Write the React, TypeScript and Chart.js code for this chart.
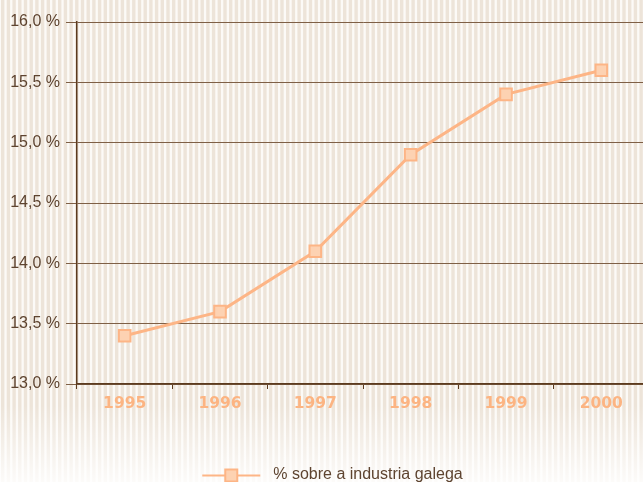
import React, { useEffect, useRef } from "react";
import { Chart, registerables } from "chart.js";

Chart.register(...registerables);

const categories = ["1995", "1996", "1997", "1998", "1999", "2000"];
const values = [13.4, 13.6, 14.1, 14.9, 15.4, 15.6];
const seriesLabel = "% sobre a industria galega";
const yMin = 13;
const yMax = 16;
const yStep = 0.5;

const LINE = "#fdb586";
const POINT_FILL = "#fdd2b2";
const TEXT = "#5e4430";
const AXIS = "#5c3b1f";
const GRID = "#7f6046";
const XLABEL = "#fcb482";

const W = 684;
const H = 482;
const LEGEND_SHIFT = 8;

const background = {
  id: "stripes",
  beforeDraw(chart: any) {
    const ctx = chart.ctx;
    ctx.save();
    ctx.fillStyle = "#fcfaf7";
    ctx.fillRect(0, 0, chart.width, chart.height);
    ctx.fillStyle = "#ede4d9";
    for (let x = 1; x < chart.width; x += 5.7) {
      ctx.fillRect(x, 0, 3.4, chart.height);
    }
    const g = ctx.createLinearGradient(0, 405, 0, chart.height);
    g.addColorStop(0, "rgba(255,255,255,0)");
    g.addColorStop(1, "rgba(255,255,255,0.85)");
    ctx.fillStyle = g;
    ctx.fillRect(0, 405, chart.width, chart.height - 405);
    ctx.restore();
  },
};

const legendMarker = {
  id: "legendMarker",
  afterLayout(chart: any) {
    const lg = chart.legend;
    if (!lg) return;
    lg.left += LEGEND_SHIFT;
    lg.right += LEGEND_SHIFT;
    (lg.legendHitBoxes || []).forEach((hb: any) => {
      hb.left += LEGEND_SHIFT;
    });
  },
  afterDraw(chart: any) {
    const lg = chart.legend;
    if (!lg || !lg.legendHitBoxes || !lg.legendHitBoxes.length) return;
    const hb = lg.legendHitBoxes[0];
    const ctx = chart.ctx;
    const cy = Math.round(hb.top + hb.height / 2) + 0.5;
    ctx.save();
    ctx.strokeStyle = LINE;
    ctx.lineWidth = 2;
    ctx.beginPath();
    ctx.moveTo(hb.left, cy);
    ctx.lineTo(hb.left + 58, cy);
    ctx.stroke();
    ctx.fillStyle = POINT_FILL;
    ctx.fillRect(hb.left + 23, cy - 6, 12, 12);
    ctx.strokeStyle = LINE;
    ctx.lineWidth = 2;
    ctx.strokeRect(hb.left + 23, cy - 6, 12, 12);
    ctx.restore();
  },
};

export default function App() {
  const ref = useRef<HTMLCanvasElement>(null);
  useEffect(() => {
    if (!ref.current) return;
    const chart = new Chart(ref.current, {
      type: "line",
      data: {
        labels: categories,
        datasets: [
          {
            label: seriesLabel,
            data: values,
            borderColor: LINE,
            borderWidth: 3,
            backgroundColor: POINT_FILL,
            pointStyle: "rect",
            pointRadius: 8.2,
            pointBorderWidth: 2,
            pointBorderColor: LINE,
            pointBackgroundColor: POINT_FILL,
            tension: 0,
          },
        ],
      },
      plugins: [background, legendMarker],
      options: {
        animation: false,
        responsive: false,
        layout: { padding: { top: 22, right: 35, bottom: -11, left: 0 } },
        plugins: {
          tooltip: { enabled: false },
          legend: {
            position: "bottom",
            labels: {
              color: TEXT,
              font: { family: "Liberation Sans", size: 16 },
              boxWidth: 63,
              boxHeight: 2,
              padding: 10,
              generateLabels: () => [
                {
                  text: seriesLabel,
                  fillStyle: "rgba(0,0,0,0)",
                  strokeStyle: "rgba(0,0,0,0)",
                  lineWidth: 0,
                  datasetIndex: 0,
                  fontColor: TEXT,
                } as any,
              ],
            },
          },
        },
        scales: {
          x: {
            type: "category",
            offset: true,
            afterFit(scale: any) {
              scale.height = 73;
            },
            grid: {
              offset: true,
              drawOnChartArea: false,
              drawTicks: true,
              tickLength: 5,
              color: AXIS,
              lineWidth: 1,
            },
            border: { color: AXIS, width: 1.5 },
            ticks: {
              color: XLABEL,
              font: { family: "DejaVu Sans", size: 15.5, weight: "bold" },
              padding: 6,
            },
          },
          y: {
            min: yMin,
            max: yMax,
            afterFit(scale: any) {
              scale.width = 77;
            },
            grid: {
              color: GRID,
              lineWidth: 1,
              drawTicks: true,
              tickLength: 11,
            },
            border: { color: AXIS, width: 1.5 },
            ticks: {
              stepSize: yStep,
              color: TEXT,
              padding: 6,
              font: { family: "Liberation Sans", size: 16 },
              callback: (v: any) => Number(v).toFixed(1).replace(".", ",") + " %",
            },
          },
        },
      },
    });
    return () => chart.destroy();
  }, []);
  return (
    <div
      style={{
        position: "absolute",
        left: 0,
        top: 0,
        width: 643,
        height: 482,
        overflow: "hidden",
        background: "#fff",
      }}
    >
      <canvas ref={ref} width={W} height={H} style={{ display: "block" }} />
    </div>
  );
}
